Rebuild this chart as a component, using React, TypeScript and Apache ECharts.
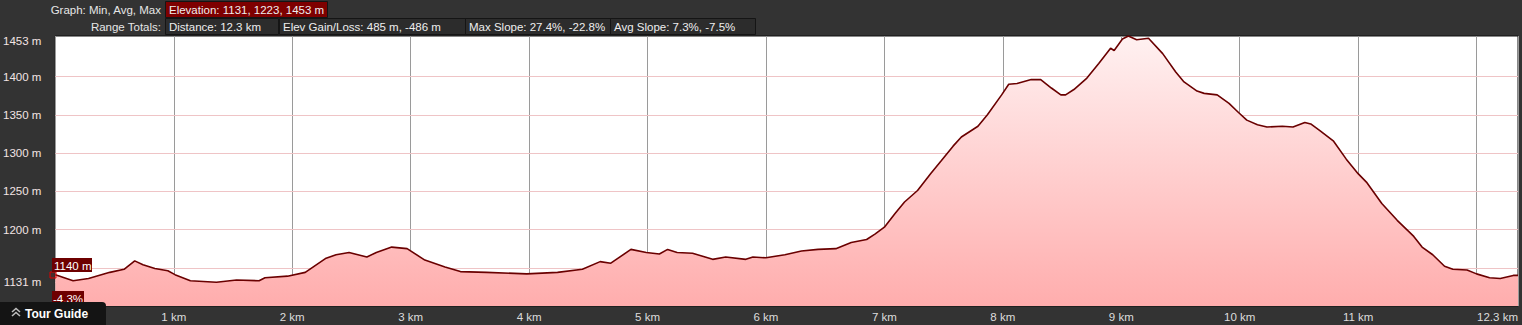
import React, { useEffect, useRef } from "react";
import * as echarts from "echarts";

const distanceKm = [0, 0.15, 0.28, 0.46, 0.58, 0.67, 0.74, 0.84, 0.95, 1.01, 1.14, 1.36, 1.53, 1.72, 1.77, 1.96, 2.11, 2.28, 2.37, 2.48, 2.63, 2.71, 2.84, 2.97, 3.12, 3.29, 3.42, 3.64, 3.98, 4.24, 4.45, 4.6, 4.69, 4.86, 4.99, 5.1, 5.17, 5.25, 5.38, 5.55, 5.66, 5.83, 5.89, 6.0, 6.16, 6.3, 6.44, 6.59, 6.72, 6.85, 6.92, 7.0, 7.09, 7.17, 7.28, 7.39, 7.48, 7.58, 7.65, 7.79, 7.87, 7.99, 8.05, 8.12, 8.24, 8.32, 8.41, 8.49, 8.53, 8.6, 8.71, 8.81, 8.91, 8.94, 9.01, 9.06, 9.13, 9.23, 9.35, 9.46, 9.53, 9.64, 9.7, 9.81, 9.91, 9.99, 10.06, 10.15, 10.23, 10.36, 10.45, 10.55, 10.6, 10.68, 10.79, 10.9, 11.0, 11.07, 11.2, 11.33, 11.47, 11.54, 11.63, 11.73, 11.8, 11.92, 12.0, 12.11, 12.2, 12.31, 12.35];

const elevationM = [1141, 1133, 1136, 1144, 1148, 1159, 1154, 1149, 1146, 1141, 1133, 1131, 1134, 1133, 1137, 1139, 1144, 1162, 1167, 1170, 1164, 1170, 1177, 1175, 1160, 1151, 1145, 1144, 1142, 1144, 1148, 1158, 1156, 1174, 1170, 1168, 1174, 1170, 1169, 1161, 1164, 1161, 1164, 1163, 1167, 1172, 1174, 1175, 1183, 1187, 1194, 1203, 1221, 1236, 1251, 1273, 1290, 1309, 1321, 1335, 1350, 1376, 1390, 1391, 1396, 1396, 1385, 1376, 1376, 1383, 1398, 1417, 1437, 1434, 1449, 1453, 1448, 1450, 1430, 1406, 1393, 1381, 1378, 1376, 1365, 1353, 1343, 1337, 1334, 1335, 1334, 1340, 1338, 1329, 1316, 1292, 1273, 1262, 1234, 1212, 1191, 1177, 1167, 1152, 1148, 1147, 1142, 1137, 1136, 1140, 1140];

const yTickValues = [1131, 1200, 1250, 1300, 1350, 1400, 1453];
const yGridValues = [1131, 1150, 1200, 1250, 1300, 1350, 1400];
const xTickValues = [1, 2, 3, 4, 5, 6, 7, 8, 9, 10, 11, 12.35];

const headerRow1 = [{ text: "Elevation: 1131, 1223, 1453 m", x: 165, w: 162, red: true }];
const headerRow2 = [
  { text: "Distance: 12.3 km", x: 165, w: 113 },
  { text: "Elev Gain/Loss: 485 m, -486 m", x: 279, w: 186 },
  { text: "Max Slope: 27.4%, -22.8%", x: 465, w: 145 },
  { text: "Avg Slope: 7.3%, -7.5%", x: 610, w: 145 },
];

const FONT = "'Liberation Sans', Arial, sans-serif";
const FS = 11.5;

export default function App() {
  const ref = useRef<HTMLDivElement>(null);
  useEffect(() => {
    if (!ref.current) return;
    const chart = echarts.init(ref.current, null, { renderer: "svg" });
    const data = distanceKm.map((d, i) => [d, elevationM[i]]);

    const boxes: any[] = [];
    const mkBox = (b: any, y: number) => {
      boxes.push({
        type: "rect",
        shape: { x: b.x + 0.5, y: y + 0.5, width: b.w, height: 16 },
        style: { fill: b.red ? "#7e0000" : "#2c2c2c", stroke: "#151515", lineWidth: 1 },
      });
      boxes.push({
        type: "text",
        x: b.x + 4,
        y: y + 9,
        style: { text: b.text, fill: "#eeeeee", font: `${FS}px ${FONT}`, verticalAlign: "middle" },
      });
    };
    headerRow1.forEach((b) => mkBox(b, 1));
    headerRow2.forEach((b) => mkBox(b, 18));

    chart.setOption({
      animation: false,
      backgroundColor: "#333333",
      grid: {
        left: 52,
        right: 4,
        top: 36,
        bottom: 19,
        show: true,
        backgroundColor: "#ffffff",
        borderColor: "#111111",
        borderWidth: 1,
      },
      xAxis: {
        type: "value",
        min: 0,
        max: 12.35,
        interval: 1,
        axisLine: { show: false },
        axisTick: { show: false },
        splitLine: { show: true, lineStyle: { color: "#9a9a9a", width: 1 } },
        axisLabel: {
          customValues: xTickValues,
          color: "#dddddd",
          fontSize: FS,
          fontFamily: FONT,
          margin: 5,
          alignMaxLabel: "right",
          formatter: (v: number) => (v > 12 ? "12.3 km" : `${v} km`),
        },
      },
      yAxis: {
        type: "value",
        min: 1100,
        max: 1453,
        axisLine: { show: false },
        axisTick: { show: false },
        splitLine: { show: false },
        axisLabel: {
          customValues: yTickValues,
          color: "#f2e4e4",
          fontSize: FS,
          fontFamily: FONT,
          margin: 14,
          formatter: (v: number) => (v === 1453 ? "{t|1453 m}" : `${v} m`),
          rich: { t: { padding: [10, 0, 0, 0], color: "#f2e4e4", fontSize: FS, fontFamily: FONT } },
        },
      },
      series: [
        {
          type: "line",
          data,
          symbol: "none",
          lineStyle: { color: "#6a0000", width: 1.6 },
          areaStyle: {
            color: new echarts.graphic.LinearGradient(0, 0, 0, 1, [
              { offset: 0, color: "#fff1f1" },
              { offset: 1, color: "#ffadad" },
            ]),
            opacity: 1,
          },
          markLine: {
            silent: true,
            symbol: "none",
            label: { show: false },
            lineStyle: { color: "#efc4c6", type: "solid", width: 1 },
            data: yGridValues.map((v) => ({ yAxis: v })),
            z: 1,
          },
          z: 3,
        },
      ],
      graphic: [
        {
          type: "text",
          x: 161,
          y: 10,
          style: { text: "Graph: Min, Avg, Max", fill: "#e6e6e6", font: `${FS}px ${FONT}`, align: "right", verticalAlign: "middle" },
        },
        {
          type: "text",
          x: 161,
          y: 27,
          style: { text: "Range Totals:", fill: "#e6e6e6", font: `${FS}px ${FONT}`, align: "right", verticalAlign: "middle" },
        },
        ...boxes,
        {
          type: "rect",
          z: 100,
          shape: { x: 50, y: 272, width: 6, height: 6 },
          style: { fill: "rgba(255,0,0,0.1)", stroke: "#e00000", lineWidth: 1 },
        },
        {
          type: "rect",
          z: 100,
          shape: { x: 52, y: 258, width: 40, height: 14 },
          style: { fill: "#6e0000" },
        },
        {
          type: "text",
          z: 101,
          x: 54,
          y: 265.5,
          style: { text: "1140 m", fill: "#ffffff", font: `${FS}px ${FONT}`, verticalAlign: "middle" },
        },
        {
          type: "rect",
          z: 100,
          shape: { x: 52, y: 291, width: 32, height: 14 },
          style: { fill: "#6e0000" },
        },
        {
          type: "text",
          z: 101,
          x: 53,
          y: 298.5,
          style: { text: "-4.3%", fill: "#ffffff", font: `${FS}px ${FONT}`, verticalAlign: "middle" },
        },
        {
          type: "rect",
          z: 110,
          shape: { x: 0, y: 302, width: 106, height: 23, r: [0, 4, 0, 0] },
          style: { fill: "#141414" },
        },
        {
          type: "polyline",
          z: 111,
          shape: { points: [[12, 312], [16, 308.5], [20, 312]] },
          style: { stroke: "#bdbdbd", lineWidth: 1.6, fill: "none" },
        },
        {
          type: "polyline",
          z: 111,
          shape: { points: [[12, 316], [16, 312.5], [20, 316]] },
          style: { stroke: "#bdbdbd", lineWidth: 1.6, fill: "none" },
        },
        {
          type: "text",
          z: 111,
          x: 25,
          y: 313.5,
          style: { text: "Tour Guide", fill: "#ffffff", font: `bold 12px ${FONT}`, verticalAlign: "middle" },
        },
      ],
    });
    return () => chart.dispose();
  }, []);
  return (
    <div
      ref={ref}
      style={{ position: "fixed", left: 0, top: 0, width: 1522, height: 325 }}
    />
  );
}
